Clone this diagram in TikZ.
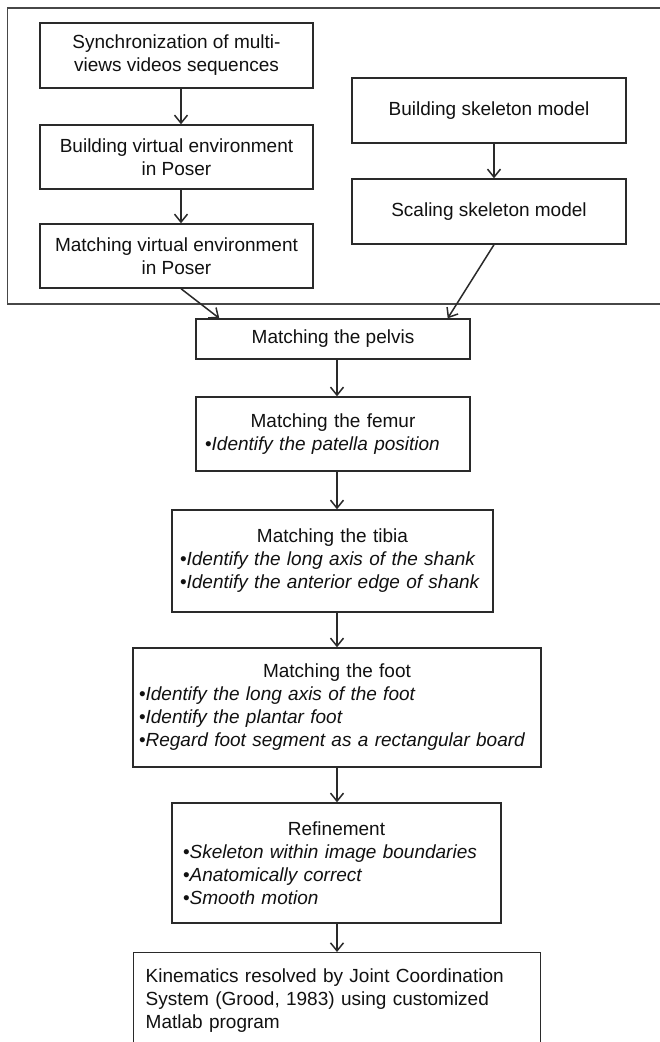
\documentclass[tikz,border=0pt]{standalone}
\usepackage{fontspec}
\setmainfont{Liberation Sans}
\usetikzlibrary{arrows.meta,positioning,calc}
\definecolor{boxline}{HTML}{2A2A2A}
\definecolor{frameline}{HTML}{474747}
\definecolor{darktext}{HTML}{111111}

\newcommand{\stagetitle}[1]{\makebox[\hsize]{#1}}

\begin{document}
\begin{tikzpicture}[x=1pt,y=-1pt,
  stage/.style={draw=boxline, line width=1.4pt, text=darktext, align=center, inner xsep=8pt, inner ysep=4pt, font=\fontsize{19}{23}\selectfont},
  substage/.style={stage, align=left},
  flow/.style={draw=boxline, line width=1.5pt, -{Straight Barb[length=8pt,width=13pt]}}]
\useasboundingbox (0,0) rectangle (659,1042);
\fill[white] (0,0) rectangle (659,1042);
\draw[frameline, line width=1.4pt] (675,8) -- (7.5,8) -- (7.5,304) -- (675,304);

\coordinate (laxis) at (181,0);
\coordinate (raxis) at (494,0);
\coordinate (maxis) at (337,0);

\node[stage, minimum width=273pt, minimum height=65pt] (sync) at (176.5,55.5) {Synchronization of multi-\\views videos sequences};
\node[stage, minimum width=273pt, minimum height=64pt] (venv) at (176.5,157) {Building virtual environment\\in Poser};
\node[stage, minimum width=273pt, minimum height=64pt] (mvenv) at (176.5,256) {Matching virtual environment\\in Poser};
\node[stage, minimum width=274pt, minimum height=65pt] (skel) at (489,110.5) {Building skeleton model};
\node[stage, minimum width=274pt, minimum height=65pt] (scale) at (489,211.5) {Scaling skeleton model};

\node[stage, minimum width=274pt, minimum height=40pt] (pelvis) at (333,339) {Matching the pelvis};
\node[substage, text width=256pt, inner xsep=9pt, minimum height=74pt] (femur) at (333,434) {\stagetitle{Matching the femur}\\•\textit{Identify the patella position}};
\node[substage, text width=305pt, inner xsep=8pt, minimum height=102pt] (tibia) at (332.5,561) {\stagetitle{Matching the tibia}\\•\textit{Identify the long axis of the shank}\\•\textit{Identify the anterior edge of shank}};
\node[substage, text width=396pt, inner xsep=6pt, minimum height=119pt] (foot) at (337,707.5) {\stagetitle{Matching the foot}\\•\textit{Identify the long axis of the foot}\\•\textit{Identify the plantar foot}\\•\textit{Regard foot segment as a rectangular board}};
\node[substage, text width=307pt, inner xsep=11pt, minimum height=120pt] (refine) at (336.5,863) {\stagetitle{Refinement}\\•\textit{Skeleton within image boundaries}\\•\textit{Anatomically correct}\\•\textit{Smooth motion}};
\node[substage, anchor=north west, text width=383pt, inner xsep=12pt, inner ysep=16pt] (kin) at (133,952) {Kinematics resolved by Joint Coordination\\System (Grood, 1983) using customized\\Matlab program};

\draw[flow] (sync.south -| laxis) -- (venv.north -| laxis);
\draw[flow] (venv.south -| laxis) -- (mvenv.north -| laxis);
\draw[flow] (skel.south -| raxis) -- (scale.north -| raxis);
\draw[flow] (mvenv.south -| laxis) -- ([xshift=24pt]pelvis.north west);
\draw[flow] (scale.south -| raxis) -- ([xshift=-23pt]pelvis.north east);
\draw[flow] (pelvis.south -| maxis) -- (femur.north -| maxis);
\draw[flow] (femur.south -| maxis) -- (tibia.north -| maxis);
\draw[flow] (tibia.south -| maxis) -- (foot.north -| maxis);
\draw[flow] (foot.south -| maxis) -- (refine.north -| maxis);
\draw[flow] (refine.south -| maxis) -- (kin.north -| maxis);
\end{tikzpicture}
\end{document}
